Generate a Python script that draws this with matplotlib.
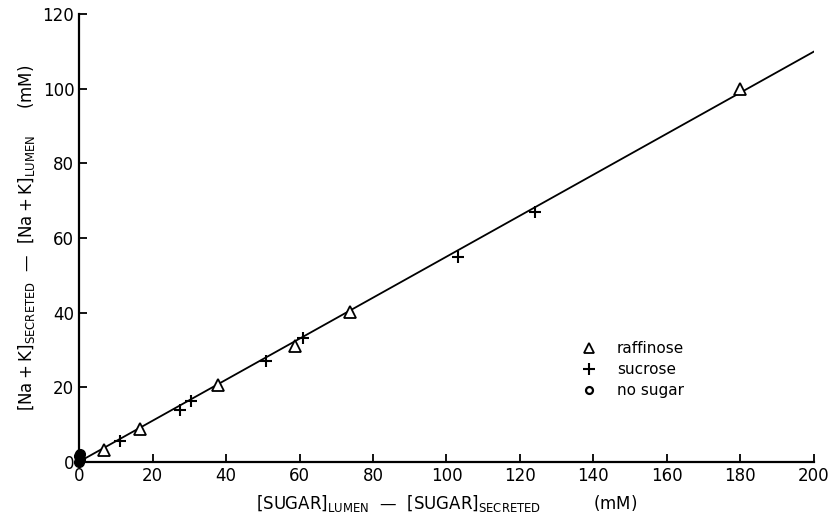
import matplotlib.pyplot as plt
from matplotlib.lines import Line2D

# Données
raff_x = [6.8, 16.6, 37.8, 58.7, 73.6, 180]
raff_y = [3.1, 8.8, 20.6, 31.1, 40.2, 100]
sucr_x = [11.1, 27.5, 30.4, 50.8, 61, 103, 124]
sucr_y = [5.6, 13.9, 16.3, 27.0, 33.2, 55, 67]
none_x = [0, 0.2, 0, 0.3]
none_y = [0, 0.8, 1.6, 2.2]
fit_x = [0, 200]
fit_y = [0, 110]

xticks = list(range(0, 201, 20))
yticks = list(range(0, 121, 20))

plt.rcParams['font.family'] = 'DejaVu Sans'
plt.rcParams['mathtext.fontset'] = 'dejavusans'

fig = plt.figure(figsize=(8.33, 5.31), dpi=100)
ax = fig.add_axes([0.095, 0.1305, 0.882, 0.8425])

ax.plot(fit_x, fit_y, color='black', linewidth=1.3)
ax.plot(raff_x, raff_y, linestyle='none', marker='^', markersize=8,
        markerfacecolor='white', markeredgecolor='black', markeredgewidth=1.3)
ax.plot(sucr_x, sucr_y, linestyle='none', marker='+', markersize=8,
        color='black', markeredgewidth=1.5)
ax.plot(none_x, none_y, linestyle='none', marker='o', markersize=7,
        color='black', clip_on=False)

ax.set_xlim(0, 200)
ax.set_ylim(0, 120)
ax.set_xticks(xticks)
ax.set_yticks(yticks)
ax.tick_params(direction='in', length=6, width=1.3, labelsize=12)
for s in ['top', 'right']:
    ax.spines[s].set_visible(False)
for s in ['left', 'bottom']:
    ax.spines[s].set_linewidth(1.6)

ax.set_xlabel(r'$[\mathrm{SUGAR}]_{\mathrm{LUMEN}}$  —  $[\mathrm{SUGAR}]_{\mathrm{SECRETED}}$          (mM)',
              fontsize=12, labelpad=6)
ax.set_ylabel(r'$[\mathrm{Na+K}]_{\mathrm{SECRETED}}$  —  $[\mathrm{Na+K}]_{\mathrm{LUMEN}}$     (mM)',
              fontsize=12, labelpad=4)

handles = [
    Line2D([], [], linestyle='none', marker='^', markersize=7,
           markerfacecolor='white', markeredgecolor='black', markeredgewidth=1.3),
    Line2D([], [], linestyle='none', marker='+', markersize=8,
           color='black', markeredgewidth=1.5),
    Line2D([], [], linestyle='none', marker='o', markersize=5,
           markerfacecolor='white', markeredgecolor='black', markeredgewidth=1.6),
]
ax.legend(handles, ['raffinose', 'sucrose', 'no sugar'], frameon=False,
          loc='upper left', bbox_to_anchor=(0.655, 0.30), fontsize=11,
          handletextpad=0.8, labelspacing=0.4)

fig.savefig('out.png', dpi=100)
